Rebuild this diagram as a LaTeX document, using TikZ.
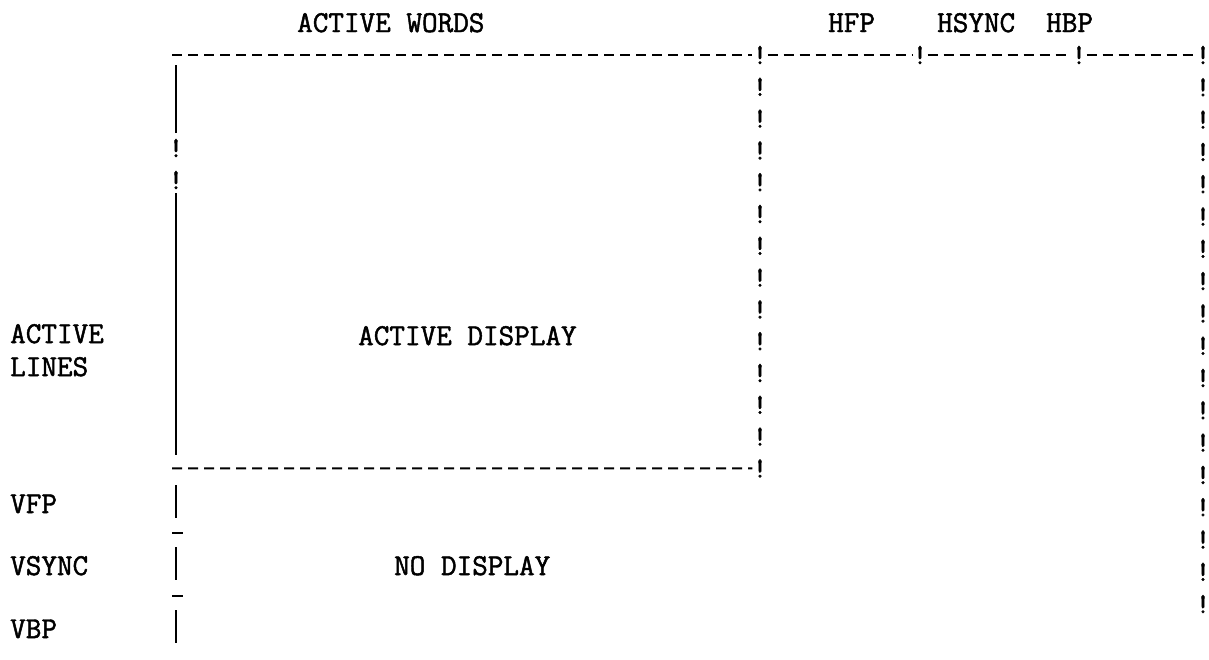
\documentclass[tikz,border=0pt]{standalone}
\usepackage{fontspec}
\newfontfamily\typew{Latin Modern Mono}[AutoFakeBold=1.6]
\begin{document}
\begin{tikzpicture}[x=1pt,y=-1pt,
  lbl/.style={font=\typew\bfseries\fontsize{30.3}{34}\selectfont, inner sep=0pt, anchor=base west},
  bang/.style={font=\typew\bfseries\fontsize{29}{32}\selectfont, inner sep=0pt},
  typed/.style={line width=2pt, dash pattern=on 10pt off 6pt},
  rule/.style={line width=2pt}]
\useasboundingbox (0,0) rectangle (1209,659);
% labels
\node[lbl] (aw) at (297,32) {ACTIVE WORDS};
\node[lbl] (hfp) at (828,32) {HFP};
\node[lbl] (hs) at (937,32) {HSYNC};
\node[lbl] (hbp) at (1046,32) {HBP};
\node[lbl] (al1) at (10,343) {ACTIVE};
\node[lbl] (al2) at (10,376) {LINES};
\node[lbl] (ad) at (358,345) {ACTIVE DISPLAY};
\node[lbl] (vfp) at (10,513) {VFP};
\node[lbl] (vs) at (10,575) {VSYNC};
\node[lbl] (nd) at (394,575) {NO DISPLAY};
\node[lbl] (vbp) at (10,638) {VBP};
% separators
\foreach \k in {0,...,13} {\node[bang] (a\k) at (760,55+31.8*\k) {!};}
\foreach \k in {0,...,17} {\node[bang] (r\k) at (1203,55+32.3*\k) {!};}
\node[bang] (t1) at (920,55) {!};
\node[bang] (t2) at (1079,55) {!};
\coordinate (tl) at (172,55);
\coordinate (bl) at (172,468.4);
\draw[typed] (tl) -- (a0.west);
\draw[typed] (a0.east) -- (t1.west);
\draw[typed] (t1.east) -- (t2.west);
\draw[typed] (t2.east) -- (r0.west);
\draw[typed] (bl) -- (a13.west);
% left edge
\node[bang] (l1) at (176,148) {!};
\node[bang] (l2) at (176,180) {!};
\coordinate (s0) at (176,65);
\coordinate (s1) at (176,133);
\coordinate (s2) at (176,193);
\coordinate (s3) at (176,455);
\draw[rule] (s0) -- (s1);
\draw[rule] (s2) -- (s3);
\coordinate (v1a) at (176,485);
\coordinate (v1b) at (176,518);
\coordinate (v2a) at (176,547);
\coordinate (v2b) at (176,580);
\coordinate (v3a) at (176,610);
\coordinate (v3b) at (176,643);
\draw[rule] (v1a) -- (v1b);
\draw[rule] (v2a) -- (v2b);
\draw[rule] (v3a) -- (v3b);
\coordinate (d1a) at (172,533);
\coordinate (d1b) at (183,533);
\coordinate (d2a) at (172,596);
\coordinate (d2b) at (183,596);
\draw[rule] (d1a) -- (d1b);
\draw[rule] (d2a) -- (d2b);
\end{tikzpicture}
\end{document}
